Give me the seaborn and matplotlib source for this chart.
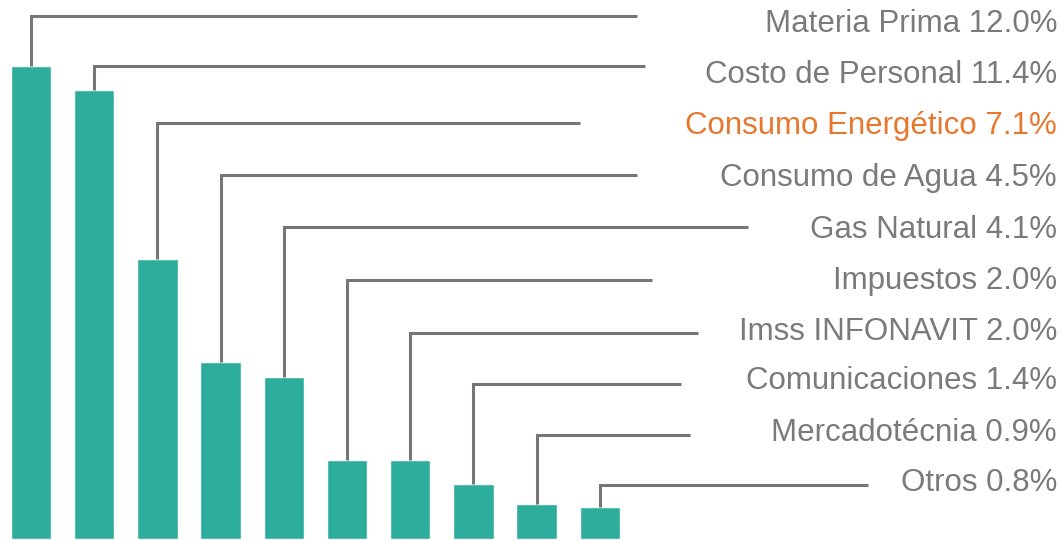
import matplotlib
matplotlib.use("Agg")
import matplotlib.pyplot as plt
import seaborn as sns
import pandas as pd

categories = ["Materia Prima", "Costo de Personal", "Consumo Energético", "Consumo de Agua",
              "Gas Natural", "Impuestos", "Imss INFONAVIT", "Comunicaciones",
              "Mercadotécnia", "Otros"]
values = [12.0, 11.4, 7.1, 4.5, 4.1, 2.0, 2.0, 1.4, 0.9, 0.8]
highlight = "Consumo Energético"

# layout (pixels in a 1063x540 canvas)
W, H = 1063, 540
line_row_px = [16, 66, 123, 175, 227, 280, 333, 384, 435, 485]
text_base_px = [31.5, 83, 133.5, 185.5, 237.5, 289, 340, 389, 440.5, 491]
line_end_px = [637, 645, 580, 637, 748, 652, 698, 681, 690, 868]
label_right_px = 1057

sns.set_theme(style="white")
plt.rcParams['font.family'] = ['Liberation Sans', 'DejaVu Sans']

fig = plt.figure(figsize=(W / 100, H / 100), dpi=100)
ax = fig.add_axes([0, 0, 1, 1])

df = pd.DataFrame({"cat": categories, "val": values})
sns.barplot(data=df, x="cat", y="val", color="#2DAE9C", saturation=1, width=0.64, ax=ax)

px_per_unit_x = 63.2
px_per_pct = 39.4
x0 = -31 / px_per_unit_x
x1 = x0 + W / px_per_unit_x
y0 = -1 / px_per_pct
y1 = y0 + H / px_per_pct
ax.set_xlim(x0, x1)
ax.set_ylim(y0, y1)
ax.axis("off")

def px_to_x(px):
    return x0 + px / px_per_unit_x

def py_to_y(py):
    return y1 - py / px_per_pct

gray_line = "#767676"
for i, (cat, v) in enumerate(zip(categories, values)):
    ly = py_to_y(line_row_px[i])
    ax.plot([i, i, px_to_x(line_end_px[i])], [v, ly, ly], color=gray_line, lw=2.2,
            solid_joinstyle="miter", solid_capstyle="butt")
    col = "#E8772E" if cat == highlight else "#7A7A7A"
    ax.text(px_to_x(label_right_px), py_to_y(text_base_px[i]), f"{cat} {v:.1f}%",
            ha="right", va="baseline", fontsize=22.5, color=col)

fig.savefig("out.png", dpi=100)
